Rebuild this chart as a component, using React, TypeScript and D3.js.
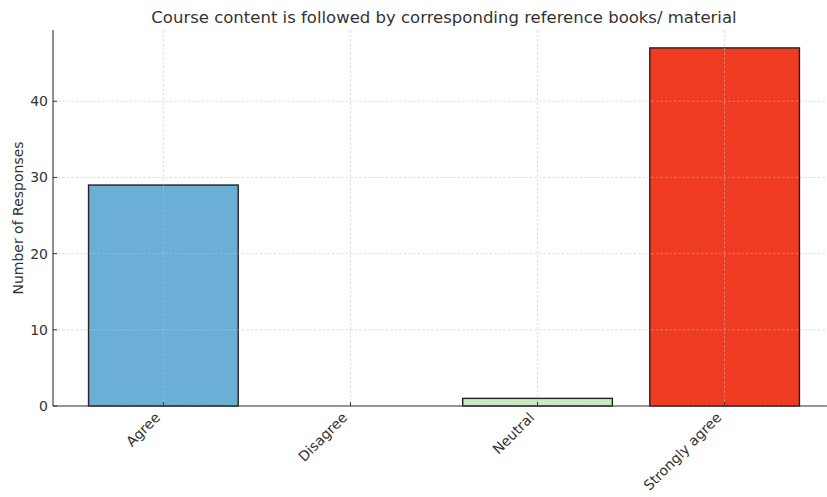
import React from "react";
import * as d3 from "d3";

const categories = ["Agree", "Disagree", "Neutral", "Strongly agree"];
const counts = [29, 0, 1, 47];
const barColors = ["#6baed6", "#fcbba1", "#c7e9c0", "#ef3b22"];
const yTicks = [0, 10, 20, 30, 40];
const title = "Course content is followed by corresponding reference books/ material";
const yLabel = "Number of Responses";

const W = 827;
const H = 497;
const left = 53;
const top = 30;
const bottom = 406;
const font = "DejaVu Sans, sans-serif";
const textColor = "#333";
const tickFs = 14;

export default function App() {
  const x = d3.scaleLinear().domain([-0.59, 3.59]).range([left, 835]);
  const maxV = d3.max(counts) as number;
  const y = d3.scaleLinear().domain([0, maxV * 1.05]).range([bottom, top]);
  const bw = x(0.8) - x(0);
  const asc = 0.76 * tickFs;
  const desc = 0.24 * tickFs;

  return (
    <svg
      width={W}
      height={H}
      style={{ position: "absolute", left: 0, top: 0, background: "#fff" }}
      fontFamily={font}
    >
      <rect width={W} height={H} fill="#fff" />
      <defs>
        <clipPath id="plot">
          <rect x={left} y={top} width={835 - left} height={bottom - top} />
        </clipPath>
      </defs>
      {/* bars */}
      <g>
        {categories.map((c, i) =>
          counts[i] > 0 ? (
            <rect
              key={c}
              x={x(i) - bw / 2}
              y={y(counts[i])}
              width={bw}
              height={y(0) - y(counts[i])}
              fill={barColors[i]}
              stroke="#222"
              strokeWidth={1.4}
            />
          ) : null
        )}
      </g>
      {/* grid */}
      <g clipPath="url(#plot)" stroke="#c4c4c4" strokeOpacity={0.7} strokeWidth={0.8} strokeDasharray="2.5,2">
        {yTicks.map((t) => (
          <line key={"gy" + t} x1={left} x2={835} y1={y(t)} y2={y(t)} />
        ))}
        {categories.map((c, i) => (
          <line key={"gx" + c} x1={x(i)} x2={x(i)} y1={top} y2={bottom} />
        ))}
      </g>
      {/* spines */}
      <line x1={left} x2={left} y1={top} y2={bottom} stroke="#333" strokeWidth={1.1} />
      <line x1={left} x2={835} y1={bottom} y2={bottom} stroke="#333" strokeWidth={1.1} />
      {/* y ticks */}
      {yTicks.map((t) => (
        <g key={"yt" + t}>
          <line x1={left} x2={left + 4} y1={y(t)} y2={y(t)} stroke="#333" />
          <text
            x={left - 5}
            y={y(t)}
            dy="0.36em"
            textAnchor="end"
            fontSize={tickFs}
            fill={textColor}
          >
            {t}
          </text>
        </g>
      ))}
      {/* x ticks */}
      {categories.map((c, i) => (
        <g key={"xt" + c}>
          <line x1={x(i)} x2={x(i)} y1={bottom} y2={bottom - 4} stroke="#333" />
          <text
            transform={`translate(${x(i) - 0.707 * desc},${bottom + 5 + 0.707 * asc}) rotate(-45)`}
            textAnchor="end"
            fontSize={tickFs}
            fill={textColor}
          >
            {c}
          </text>
        </g>
      ))}
      {/* title */}
      <text
        x={(left + 835) / 2}
        y={23}
        textAnchor="middle"
        fontSize={16.5}
        fill={textColor}
      >
        {title}
      </text>
      {/* y label */}
      <text
        transform={`translate(23,${(top + bottom) / 2}) rotate(-90)`}
        textAnchor="middle"
        fontSize={14}
        fill={textColor}
      >
        {yLabel}
      </text>
    </svg>
  );
}
